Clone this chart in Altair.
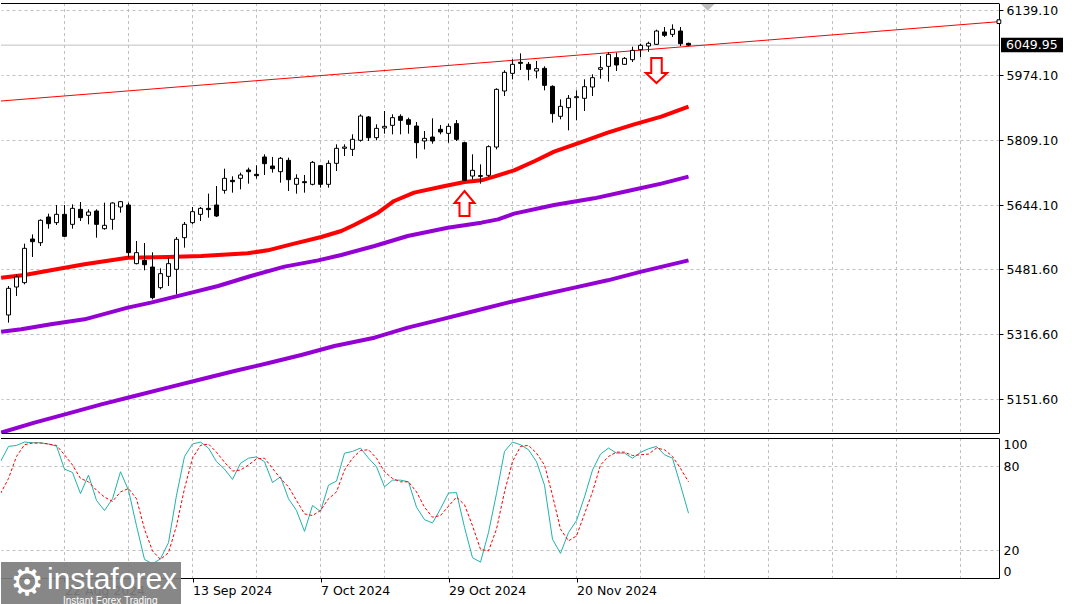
import altair as alt
import pandas as pd

# ---------------- values ----------------
bar_index = list(range(86))
candle_open = [5364.9, 5435.9, 5447.0, 5557.8, 5548.5, 5613.6, 5599.3, 5620.4, 5595.0, 5633.1,
               5617.9, 5628.9, 5584.0, 5607.7, 5639.0, 5644.1, 5495.2, 5503.6, 5486.7, 5434.3,
               5463.0, 5480.8, 5561.2, 5599.3, 5620.4, 5635.6, 5644.1, 5681.3, 5706.7, 5711.8,
               5733.0, 5722.0, 5766.0, 5743.1, 5728.7, 5757.5, 5696.6, 5703.3, 5696.6, 5744.0,
               5696.6, 5749.9, 5788.0, 5785.4, 5808.3, 5867.5, 5815.0, 5839.6, 5846.3, 5869.2,
               5860.7, 5844.6, 5806.6, 5816.7, 5836.2, 5826.0, 5850.6, 5802.3, 5717.7, 5718.6,
               5719.4, 5791.3, 5933.5, 5978.3, 6006.3, 6001.2, 5984.3, 5991.0, 5945.3, 5869.2,
               5891.2, 5916.6, 5914.9, 5943.6, 5988.5, 5996.1, 6018.1, 6001.2, 6013.0, 6038.4,
               6047.7, 6052.0, 6083.3, 6077.3, 6085.8, 6054.5]
candle_high = [5438.5, 5468.1, 5545.9, 5569.6, 5607.7, 5622.1, 5644.1, 5644.1, 5645.8, 5651.7,
               5633.1, 5633.1, 5650.0, 5650.9, 5654.3, 5650.0, 5552.7, 5547.6, 5524.0, 5483.3,
               5510.4, 5562.9, 5601.0, 5639.0, 5639.0, 5672.9, 5692.3, 5736.3, 5716.9, 5726.2,
               5738.9, 5744.8, 5772.7, 5766.0, 5766.0, 5764.3, 5722.0, 5720.3, 5755.8, 5745.6,
               5757.5, 5798.1, 5798.1, 5823.5, 5874.3, 5870.0, 5848.9, 5882.7, 5874.3, 5874.3,
               5865.8, 5854.8, 5832.0, 5864.1, 5847.2, 5850.6, 5859.9, 5804.9, 5772.7, 5747.3,
               5795.6, 5940.3, 5986.0, 6013.9, 6029.1, 6007.1, 6009.6, 5996.1, 5947.9, 5912.3,
               5923.3, 5935.2, 5963.1, 5975.8, 6022.3, 6032.5, 6030.8, 6019.8, 6046.0, 6053.6,
               6058.7, 6089.2, 6096.0, 6102.7, 6096.0, 6056.2]
candle_low = [5345.4, 5413.1, 5442.7, 5512.1, 5540.0, 5584.0, 5593.3, 5562.9, 5584.0, 5603.5,
              5595.0, 5561.2, 5581.5, 5581.5, 5624.6, 5510.4, 5493.5, 5478.3, 5404.6, 5430.0,
              5438.5, 5417.3, 5535.8, 5595.0, 5603.5, 5612.0, 5613.6, 5672.9, 5675.4, 5683.9,
              5698.3, 5711.0, 5720.3, 5726.2, 5700.8, 5679.6, 5672.9, 5675.4, 5694.0, 5688.1,
              5688.1, 5730.4, 5768.5, 5768.5, 5804.9, 5806.6, 5808.3, 5825.2, 5823.5, 5823.5,
              5825.2, 5762.6, 5785.4, 5799.8, 5823.5, 5802.3, 5806.6, 5705.0, 5709.3, 5698.3,
              5715.2, 5785.4, 5920.8, 5963.1, 5986.8, 5960.6, 5965.6, 5935.2, 5853.1, 5861.6,
              5833.6, 5859.0, 5882.7, 5920.8, 5964.8, 5957.2, 5984.3, 5999.5, 6007.1, 6019.8,
              6033.3, 6050.3, 6070.6, 6070.6, 6047.7, 6047.7]
candle_close = [5432.6, 5461.3, 5534.1, 5551.0, 5605.2, 5596.7, 5620.4, 5564.6, 5635.6, 5612.0,
                5626.3, 5595.0, 5592.5, 5649.2, 5652.6, 5523.1, 5523.1, 5492.6, 5408.9, 5469.8,
                5495.2, 5557.0, 5595.0, 5627.2, 5635.6, 5632.3, 5616.2, 5711.8, 5703.3, 5720.3,
                5728.7, 5718.6, 5749.0, 5736.3, 5762.6, 5708.4, 5711.8, 5700.8, 5752.4, 5696.6,
                5749.9, 5788.0, 5791.3, 5810.8, 5870.0, 5815.0, 5838.7, 5843.8, 5865.8, 5859.0,
                5848.9, 5802.3, 5813.3, 5806.6, 5829.4, 5843.8, 5810.8, 5706.7, 5732.1, 5716.9,
                5792.2, 5937.7, 5980.9, 6001.2, 6003.7, 5988.5, 5990.2, 5947.9, 5876.0, 5894.6,
                5914.9, 5919.1, 5944.5, 5967.3, 5992.7, 6026.6, 5999.5, 6016.4, 6036.7, 6049.4,
                6054.5, 6085.8, 6074.8, 6090.0, 6053.6, 6049.95]

ma_red_bar = [-0.92, 2, 5.3, 9.5, 14.9, 19.9, 24.1, 29.9, 32.4, 35.7, 39.1, 41.6, 43.2, 46.2,
              48.2, 50.7, 54.1, 57, 59.1, 60.7, 63.2, 65.8, 68.2, 71.6, 74.9, 78.2, 81.6, 85]
ma_red_val = [5459.6, 5466.4, 5478.3, 5493.5, 5510.4, 5512.1, 5514.6, 5521.4, 5529.0, 5545.9,
              5562.9, 5578.1, 5593.3, 5624.6, 5654.3, 5675.4, 5690.6, 5702.5, 5706.7, 5716.0,
              5732.1, 5755.8, 5779.5, 5804.0, 5827.7, 5848.9, 5868.3, 5893.7]
ma_mid_bar = [-0.92, 1.6, 5.3, 9.5, 14.9, 17.8, 22, 26.2, 30.3, 34.5, 38.7, 41.6, 45.75, 49.9,
              54.9, 59.1, 61.2, 63.2, 68.2, 73.2, 77.4, 81.6, 85]
ma_mid_val = [5322.6, 5328.5, 5341.2, 5353.9, 5383.5, 5396.2, 5417.3, 5438.5, 5463.9, 5487.6,
              5503.6, 5517.2, 5540.0, 5565.4, 5586.5, 5599.3, 5607.7, 5622.1, 5644.1, 5661.0,
              5679.6, 5698.3, 5716.0]
ma_low_bar = [-0.92, 3.25, 7.4, 11.6, 15.75, 19.9, 24.1, 28.25, 32.4, 36.6, 40.75, 45.75, 49.9,
              54.1, 58.25, 62.4, 66.6, 70.75, 74.9, 79.1, 85]
ma_low_val = [5066.2, 5091.6, 5114.4, 5138.1, 5159.2, 5180.4, 5201.6, 5222.7, 5242.2, 5263.3,
              5286.1, 5307.3, 5332.7, 5353.9, 5375.0, 5396.2, 5415.6, 5434.3, 5452.9, 5474.9,
              5503.6]

stoch_bar = list(range(-1, 86))
stoch_main = [83.1, 94.0, 94.7, 97.1, 96.6, 96.6, 95.7, 94.2, 77.8, 75.4,
              60.3, 73.5, 55.4, 48.2, 56.6, 75.9, 62.7, 37.3, 13.3, 10.1,
              13.7, 25.3, 59.1, 86.8, 95.7, 97.1, 92.8, 83.1, 77.8, 70.4,
              81.9, 85.6, 86.5, 83.1, 68.2, 72.3, 56.6, 48.2, 33.3, 51.8,
              47.5, 66.3, 69.2, 89.2, 90.4, 92.8, 85.6, 79.5, 65.1, 69.9,
              69.9, 68.7, 50.6, 41.7, 39.3, 49.4, 60.7, 61.0, 36.2, 14.5,
              11.3, 32.5, 60.3, 90.4, 97.1, 95.2, 91.6, 83.1, 66.3, 27.7,
              17.6, 32.5, 41.0, 57.9, 77.1, 88.5, 92.8, 89.2, 89.2, 85.6,
              89.7, 92.3, 94.0, 88.0, 85.6, 66.3, 46.3]
stoch_signal = [60.3, 71.1, 86.8, 95.2, 96.4, 96.4, 95.7, 94.7, 88.0, 80.7,
                71.1, 68.7, 62.7, 57.8, 54.7, 61.5, 63.9, 56.6, 34.9, 19.3,
                13.3, 18.1, 37.3, 63.9, 85.6, 94.7, 95.7, 89.9, 82.7, 76.4,
                77.1, 80.7, 85.1, 85.6, 78.3, 71.1, 65.1, 55.4, 45.8, 44.6,
                48.2, 56.6, 61.5, 77.1, 85.6, 91.1, 91.6, 85.6, 75.9, 71.1,
                68.7, 68.7, 61.5, 50.6, 43.4, 44.6, 51.3, 57.8, 52.3, 37.3,
                20.5, 19.3, 34.9, 61.5, 83.1, 94.0, 94.7, 89.2, 80.7, 59.0,
                34.9, 26.5, 30.1, 45.8, 61.5, 80.7, 86.8, 89.9, 89.9, 87.5,
                88.0, 88.5, 92.8, 91.6, 86.8, 78.3, 68.7]

trend_bar = [-0.94, 123.8]
trend_val = [5908.1, 6109.5]

price_ticks = [6139.10, 5974.10, 5809.10, 5644.10, 5481.60, 5316.60, 5151.60]
stoch_ticks = [0, 20, 80, 100]
grid_bars = [7, 15, 23, 31, 39, 47, 55, 63, 71, 79, 87, 95, 103, 111, 119]
date_bars = [7, 23, 39, 55, 71]
date_labels = ["22 Aug 2024", "13 Sep 2024", "7 Oct 2024", "29 Oct 2024", "20 Nov 2024"]
last_price = 6049.95
arrow_up_bar, arrow_up_price = [57], [5647.9]
arrow_down_bar, arrow_down_price = [81], [5985.5]
shift_bar = 87.4

# ---------------- chart ----------------
FONT = "DejaVu Sans"
W, H1, H2 = 998, 430, 140
xs = alt.Scale(domain=[-0.9375, 123.8125], nice=False, zero=False)
ys = alt.Scale(domain=[5065.3, 6156.9], nice=False, zero=False)
ss = alt.Scale(domain=[0, 100], nice=False, zero=False)

AX_MAIN_X = alt.Axis(orient="bottom", labels=False, ticks=False, grid=False,
                     domain=True, domainColor="black", title=None)
AX_MAIN_Y = alt.Axis(orient="right", values=price_ticks, format=".2f", grid=True,
                     gridColor="#c0c0c0", gridDash=[3, 3], domainColor="black",
                     tickColor="black", tickSize=4, labelPadding=3, title=None,
                     labelFont=FONT, labelFontSize=12.5, labelColor="black")
label_expr = "".join(f"datum.value == {b} ? '{t}' : " for b, t in zip(date_bars, date_labels)) + "''"
AX_ST_X = alt.Axis(orient="bottom", values=date_bars, labelExpr=label_expr,
                   labelAlign="left", tickSize=4, tickColor="black", domainColor="black",
                   labelPadding=2, grid=False, title=None, labelOverlap=False,
                   labelFont=FONT, labelFontSize=12.5, labelColor="black")
AX_ST_Y = alt.Axis(orient="right", values=stoch_ticks, grid=True, gridColor="#c0c0c0",
                   gridDash=[3, 3], tickSize=0, labelPadding=4, labelFlush=True,
                   domainColor="black", title=None, labelFont=FONT,
                   labelFontSize=12.5, labelColor="black")


def mx(field):
    return alt.X(field, type="quantitative", scale=xs, axis=AX_MAIN_X, title=None)


def my(field):
    return alt.Y(field, type="quantitative", scale=ys, axis=AX_MAIN_Y, title=None)


def sx(field):
    return alt.X(field, type="quantitative", scale=xs, axis=AX_ST_X, title=None)


def sy(field):
    return alt.Y(field, type="quantitative", scale=ss, axis=AX_ST_Y, title=None)


candles = pd.DataFrame({"k": bar_index, "open": candle_open, "high": candle_high,
                        "low": candle_low, "close": candle_close})
grid_df = pd.DataFrame({"k": grid_bars})

vgrid_main = alt.Chart(grid_df).mark_rule(color="#c0c0c0", strokeDash=[3, 3], strokeWidth=1).encode(
    x=mx("k"))

price_rule = alt.Chart(pd.DataFrame({"p": [last_price]})).mark_rule(
    color="#c0c0c0", strokeWidth=1).encode(y=my("p"))

trend = alt.Chart(pd.DataFrame({"k": trend_bar, "p": trend_val})).mark_line(
    color="#ff0000", strokeWidth=1, clip=True).encode(x=mx("k"), y=my("p"))
trend_end = alt.Chart(pd.DataFrame({"k": [trend_bar[-1]], "p": [trend_val[-1]]})).mark_point(
    shape="square", size=14, filled=True, fill="white", stroke="black", strokeWidth=1, opacity=1
).encode(x=mx("k"), y=my("p"))


def ma_layer(bars, vals, color):
    return alt.Chart(pd.DataFrame({"k": bars, "p": vals})).mark_line(
        color=color, strokeWidth=4, clip=True, strokeJoin="round").encode(x=mx("k"), y=my("p"))


ma_low = ma_layer(ma_low_bar, ma_low_val, "#9400d3")
ma_mid = ma_layer(ma_mid_bar, ma_mid_val, "#9400d3")
ma_red = ma_layer(ma_red_bar, ma_red_val, "#ff0000")

wicks = alt.Chart(candles).mark_rule(color="black", strokeWidth=1).encode(
    x=mx("k"), y=my("low"), y2="high:Q")
bodies = alt.Chart(candles).transform_calculate(
    x1="datum.k - 0.25", x2="datum.k + 0.25"
).mark_rect(stroke="black", strokeWidth=1).encode(
    x=mx("x1"), x2="x2:Q", y=my("open"), y2="close:Q",
    fill=alt.condition("datum.close >= datum.open", alt.value("white"), alt.value("black")),
)

up_path = "M0,-1L0.8,-0.04L0.4,-0.04L0.4,1L-0.4,1L-0.4,-0.04L-0.8,-0.04Z"
down_path = "M0,1L0.85,0.2L0.42,0.2L0.42,-1L-0.42,-1L-0.42,0.2L-0.85,0.2Z"
arrow_up = alt.Chart(pd.DataFrame({"k": arrow_up_bar, "p": arrow_up_price})).mark_point(
    shape=up_path, size=625, filled=True, fill="white", stroke="#ff0000", strokeWidth=2, opacity=1
).encode(x=mx("k"), y=my("p"))
arrow_down = alt.Chart(pd.DataFrame({"k": arrow_down_bar, "p": arrow_down_price})).mark_point(
    shape=down_path, size=625, filled=True, fill="white", stroke="#ff0000", strokeWidth=2, opacity=1
).encode(x=mx("k"), y=my("p"))

price_df = pd.DataFrame({"p": [last_price], "label": [f"{last_price:.2f}"]})
price_box = alt.Chart(price_df).mark_rect(color="black", yOffset=-7.5, y2Offset=7).encode(
    x=alt.value(1000), x2=alt.value(1062), y=my("p"), y2="p:Q")
price_text = alt.Chart(price_df).mark_text(
    align="left", baseline="middle", color="white", font=FONT, fontSize=12.5).encode(
    x=alt.value(1005), y=my("p"), text="label:N")

shift_marker = alt.Chart(pd.DataFrame({"k": [shift_bar]})).mark_point(
    shape="M-1,-0.5L1,-0.5L0,0.5Z", size=225, filled=True, color="#bdbdbd", opacity=1
).encode(x=mx("k"), y=alt.value(4))

top_border = alt.Chart(pd.DataFrame({"a": [0]})).mark_rule(color="black", strokeWidth=1).encode(
    x=alt.value(0), x2=alt.value(W), y=alt.value(0.5))

main = alt.layer(
    vgrid_main, price_rule, trend, ma_low, ma_mid, ma_red, wicks, bodies,
    arrow_up, arrow_down, price_box, price_text, shift_marker, trend_end, top_border
).properties(width=W, height=H1)

# ---------------- stochastic panel ----------------
stoch_df = pd.DataFrame({"k": stoch_bar, "main": stoch_main, "signal": stoch_signal})

vgrid_st = alt.Chart(grid_df).mark_rule(color="#c0c0c0", strokeDash=[3, 3], strokeWidth=1).encode(
    x=sx("k"))
k_line = alt.Chart(stoch_df).mark_line(color="#20b2aa", strokeWidth=1, clip=True).encode(
    x=sx("k"), y=sy("main"))
d_line = alt.Chart(stoch_df).mark_line(
    color="#ff0000", strokeWidth=1, strokeDash=[3, 2], clip=True).encode(
    x=sx("k"), y=sy("signal"))

st_top = alt.Chart(pd.DataFrame({"a": [0]})).mark_rule(color="black", strokeWidth=1).encode(
    x=alt.value(0), x2=alt.value(W), y=alt.value(0.5))
st_bottom = alt.Chart(pd.DataFrame({"a": [0]})).mark_rule(color="black", strokeWidth=1).encode(
    x=alt.value(0), x2=alt.value(W), y=alt.value(H2 + 0.5))

logo_box = alt.Chart(pd.DataFrame({"a": [0]})).mark_rect(color="#7d7d7d", opacity=0.92).encode(
    x=alt.value(0), x2=alt.value(180), y=alt.value(124), y2=alt.value(170))
logo_gear = alt.Chart(pd.DataFrame({"t": ["⚙"]})).mark_text(
    color="white", font="DejaVu Sans", fontSize=38, align="center", baseline="middle").encode(
    x=alt.value(26), y=alt.value(146), text="t:N")
logo_name = alt.Chart(pd.DataFrame({"t": ["instaforex"]})).mark_text(
    color="white", font="Liberation Sans", fontSize=30, align="left", baseline="alphabetic").encode(
    x=alt.value(46), y=alt.value(151), text="t:N")
logo_tag = alt.Chart(pd.DataFrame({"t": ["Instant Forex Trading"]})).mark_text(
    color="white", font="Liberation Sans", fontSize=10, align="left", baseline="middle").encode(
    x=alt.value(62), y=alt.value(163), text="t:N")

stoch = alt.layer(
    vgrid_st, k_line, d_line, st_top, st_bottom, logo_box, logo_gear, logo_name, logo_tag
).properties(width=W, height=H2)

chart = alt.vconcat(main, stoch, spacing=3).properties(
    padding={"left": 0, "top": 2, "right": 0, "bottom": 0},
    background="white",
).configure_view(stroke=None)

chart.save("out.html", embed_options={"renderer": "svg", "actions": False})
